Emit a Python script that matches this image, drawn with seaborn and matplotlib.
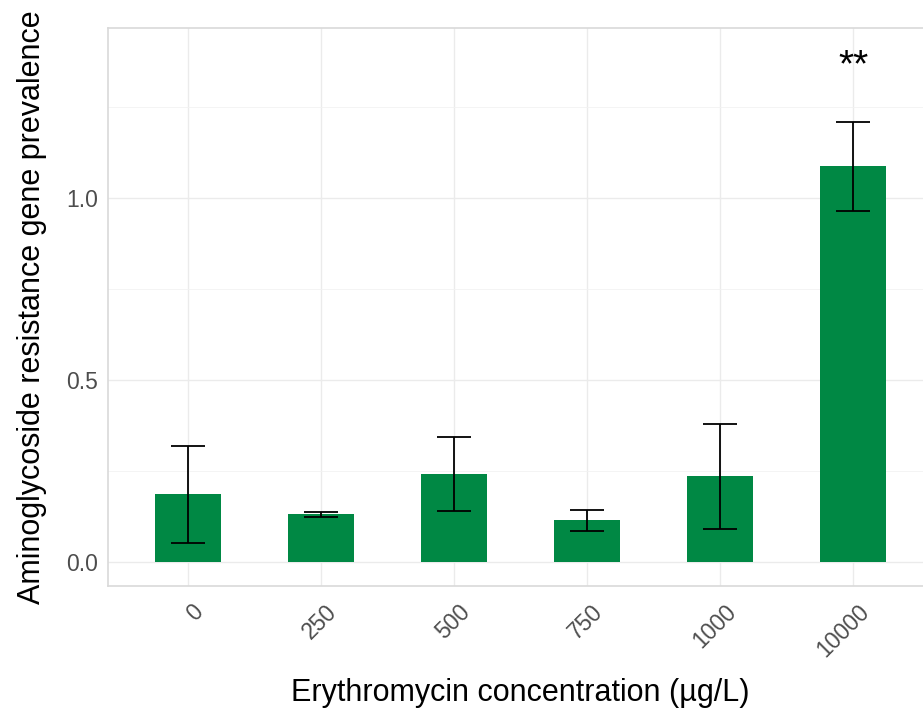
import matplotlib
matplotlib.use("Agg")
import matplotlib.pyplot as plt
import matplotlib.transforms as mtransforms
import seaborn as sns
import pandas as pd
import numpy as np

concentrations = ["0", "250", "500", "750", "1000", "10000"]
prevalence = [0.188, 0.133, 0.243, 0.115, 0.238, 1.089]
err_upper = [0.320, 0.139, 0.344, 0.143, 0.381, 1.210]
err_lower = [0.054, 0.125, 0.140, 0.086, 0.092, 0.965]
sig_labels = ["", "", "", "", "", "**"]
sig_y = 1.362

sns.set_theme(style="whitegrid")
plt.rcParams["font.family"] = ["Liberation Sans", "DejaVu Sans"]

df = pd.DataFrame({"conc": concentrations, "prev": prevalence})

fig = plt.figure(figsize=(9.23, 7.16), dpi=100)
ax = fig.add_axes([108/923, (716-586)/716, (933-108)/923, (586-28)/716])

sns.barplot(data=df, x="conc", y="prev", order=concentrations, color="#008844",
            saturation=1, width=0.5, ax=ax, errorbar=None, edgecolor="none")

x = np.arange(len(concentrations))
yerr = [np.array(prevalence) - np.array(err_lower), np.array(err_upper) - np.array(prevalence)]
ax.errorbar(x, prevalence, yerr=yerr, fmt="none", ecolor="black", elinewidth=1.3,
            capsize=12, capthick=1.3, zorder=5)

for xi, lab in zip(x, sig_labels):
    if lab:
        ax.text(xi, sig_y, lab, ha="center", va="center", fontsize=28, color="black")

ax.set_xlim(-0.6, 5.6)
ax.set_ylim(-0.065, 1.468)
ax.set_yticks([0.0, 0.5, 1.0])
ax.set_yticklabels(["0.0", "0.5", "1.0"])
ax.set_yticks([0.25, 0.75, 1.25], minor=True)

ax.grid(True, which="major", color="#EBEBEB", linewidth=1.0)
ax.grid(True, which="minor", axis="y", color="#F2F2F2", linewidth=0.6)
ax.set_axisbelow(True)
for s in ax.spines.values():
    s.set_color("#D9D9D9")
    s.set_linewidth(1.2)

ax.tick_params(axis="both", which="major", length=4, width=0.8, color="#B3B3B3",
               labelcolor="#4D4D4D", labelsize=16.5, direction="out")
ax.tick_params(axis="y", which="minor", length=0)
ax.tick_params(axis="x", pad=6)
ax.tick_params(axis="y", pad=3)

ax.set_xticks(x)
ax.set_xticklabels(concentrations, rotation=45, ha="right", va="top", rotation_mode="anchor")
offset = mtransforms.ScaledTranslation(4/100, 0, fig.dpi_scale_trans)
for lbl in ax.get_xticklabels():
    lbl.set_transform(lbl.get_transform() + offset)

ax.set_xlabel("Erythromycin concentration (µg/L)", fontsize=22, color="black", labelpad=12)
ax.set_ylabel("Aminoglycoside resistance gene prevalence", fontsize=22, color="black", labelpad=14)

fig.savefig("out.png", dpi=100)
